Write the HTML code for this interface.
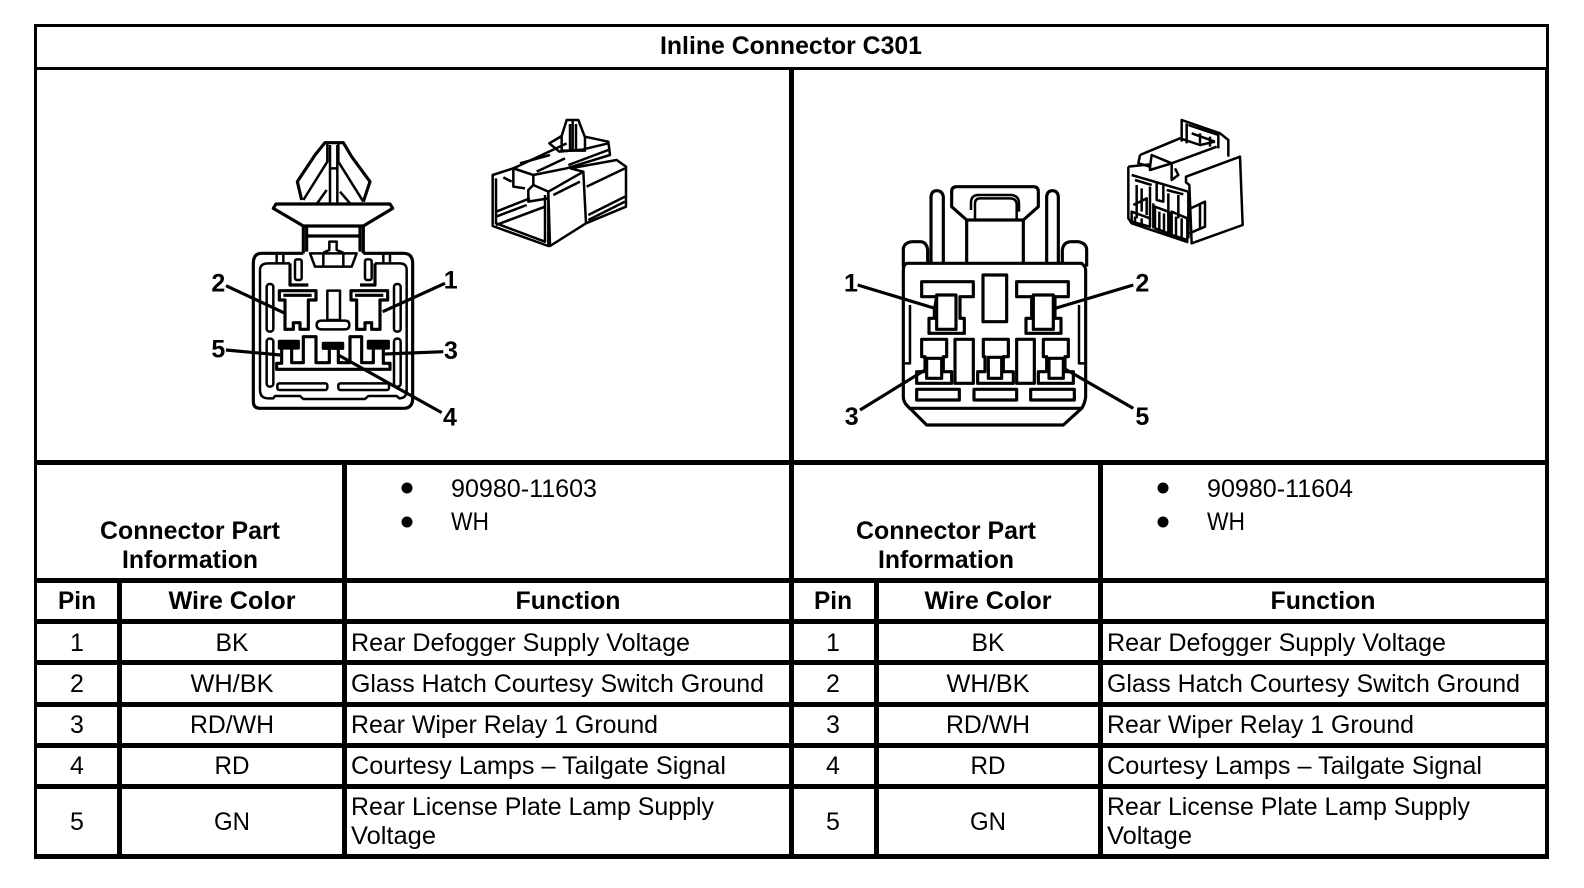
<!DOCTYPE html>
<html><head><meta charset="utf-8"><style>
html,body{margin:0;padding:0;background:#fff}
svg{display:block}
text{font-family:"Liberation Sans",Arial,sans-serif;fill:#000}
.b{font-weight:bold;font-size:25px}
.r{font-size:25px}
.m{text-anchor:middle}
.d path,.d rect,.d line{fill:none;stroke:#000;stroke-width:9.5;stroke-linejoin:round}
.d .f{fill:#fff}
.d .k{fill:#000}
.d .t{stroke-width:7.5}
.d text{font-size:75px;font-weight:bold;text-anchor:middle}
.p path{fill:none;stroke:#000;stroke-width:7.5;stroke-linejoin:round}
.p .f{fill:#fff}
</style></head><body>
<svg width="1584" height="888" viewBox="0 0 1584 888" xmlns="http://www.w3.org/2000/svg">
<rect width="1584" height="888" fill="#fff"/>
<g fill="#000">
<rect x="34" y="24" width="1515" height="3"/>
<rect x="34" y="67" width="1515" height="3"/>
<rect x="34" y="460" width="1515" height="5"/>
<rect x="34" y="578" width="1515" height="5"/>
<rect x="34" y="619" width="1515" height="5"/>
<rect x="34" y="660" width="1515" height="5"/>
<rect x="34" y="702" width="1515" height="5"/>
<rect x="34" y="743" width="1515" height="5"/>
<rect x="34" y="784" width="1515" height="5"/>
<rect x="34" y="854" width="1515" height="5"/>
<rect x="34" y="24" width="3" height="835"/>
<rect x="1546" y="24" width="3" height="43"/>
<rect x="1545" y="67" width="4" height="792"/>
<rect x="789" y="68" width="5" height="790"/>
<rect x="117" y="580" width="5" height="278"/>
<rect x="342" y="462" width="5" height="396"/>
<rect x="874" y="580" width="5" height="278"/>
<rect x="1098" y="462" width="5" height="396"/>
</g>

<text class="b m" x="791" y="54" textLength="262" lengthAdjust="spacingAndGlyphs">Inline Connector C301</text>

<!-- Left part info -->
<text class="b m" x="190" y="539" textLength="180" lengthAdjust="spacingAndGlyphs">Connector Part</text>
<text class="b m" x="190" y="568" textLength="136" lengthAdjust="spacingAndGlyphs">Information</text>
<circle cx="407" cy="488" r="5.5"/><circle cx="407" cy="522" r="5.5"/>
<text class="r" x="451" y="497" textLength="146" lengthAdjust="spacingAndGlyphs">90980-11603</text>
<text class="r" x="451" y="530" textLength="38" lengthAdjust="spacingAndGlyphs">WH</text>
<text class="b m" x="77" y="609" textLength="38" lengthAdjust="spacingAndGlyphs">Pin</text>
<text class="b m" x="232" y="609" textLength="127" lengthAdjust="spacingAndGlyphs">Wire Color</text>
<text class="b m" x="568" y="609" textLength="105" lengthAdjust="spacingAndGlyphs">Function</text>

<!-- Right part info -->
<text class="b m" x="946" y="539" textLength="180" lengthAdjust="spacingAndGlyphs">Connector Part</text>
<text class="b m" x="946" y="568" textLength="136" lengthAdjust="spacingAndGlyphs">Information</text>
<circle cx="1163" cy="488" r="5.5"/><circle cx="1163" cy="522" r="5.5"/>
<text class="r" x="1207" y="497" textLength="146" lengthAdjust="spacingAndGlyphs">90980-11604</text>
<text class="r" x="1207" y="530" textLength="38" lengthAdjust="spacingAndGlyphs">WH</text>
<text class="b m" x="833" y="609" textLength="38" lengthAdjust="spacingAndGlyphs">Pin</text>
<text class="b m" x="988" y="609" textLength="127" lengthAdjust="spacingAndGlyphs">Wire Color</text>
<text class="b m" x="1323" y="609" textLength="105" lengthAdjust="spacingAndGlyphs">Function</text>

<!-- Left rows -->
<text class="r m" x="77" y="651">1</text>
<text class="r m" x="232" y="651" textLength="33" lengthAdjust="spacingAndGlyphs">BK</text>
<text class="r" x="351" y="651" textLength="339" lengthAdjust="spacingAndGlyphs">Rear Defogger Supply Voltage</text>
<text class="r m" x="77" y="692">2</text>
<text class="r m" x="232" y="692" textLength="83" lengthAdjust="spacingAndGlyphs">WH/BK</text>
<text class="r" x="351" y="692" textLength="413" lengthAdjust="spacingAndGlyphs">Glass Hatch Courtesy Switch Ground</text>
<text class="r m" x="77" y="733">3</text>
<text class="r m" x="232" y="733" textLength="84" lengthAdjust="spacingAndGlyphs">RD/WH</text>
<text class="r" x="351" y="733" textLength="307" lengthAdjust="spacingAndGlyphs">Rear Wiper Relay 1 Ground</text>
<text class="r m" x="77" y="774">4</text>
<text class="r m" x="232" y="774" textLength="35" lengthAdjust="spacingAndGlyphs">RD</text>
<text class="r" x="351" y="774" textLength="375" lengthAdjust="spacingAndGlyphs">Courtesy Lamps – Tailgate Signal</text>
<text class="r m" x="77" y="830">5</text>
<text class="r m" x="232" y="830" textLength="36" lengthAdjust="spacingAndGlyphs">GN</text>
<text class="r" x="351" y="815" textLength="363" lengthAdjust="spacingAndGlyphs">Rear License Plate Lamp Supply</text>
<text class="r" x="351" y="844" textLength="85" lengthAdjust="spacingAndGlyphs">Voltage</text>

<!-- Right rows -->
<text class="r m" x="833" y="651">1</text>
<text class="r m" x="988" y="651" textLength="33" lengthAdjust="spacingAndGlyphs">BK</text>
<text class="r" x="1107" y="651" textLength="339" lengthAdjust="spacingAndGlyphs">Rear Defogger Supply Voltage</text>
<text class="r m" x="833" y="692">2</text>
<text class="r m" x="988" y="692" textLength="83" lengthAdjust="spacingAndGlyphs">WH/BK</text>
<text class="r" x="1107" y="692" textLength="413" lengthAdjust="spacingAndGlyphs">Glass Hatch Courtesy Switch Ground</text>
<text class="r m" x="833" y="733">3</text>
<text class="r m" x="988" y="733" textLength="84" lengthAdjust="spacingAndGlyphs">RD/WH</text>
<text class="r" x="1107" y="733" textLength="307" lengthAdjust="spacingAndGlyphs">Rear Wiper Relay 1 Ground</text>
<text class="r m" x="833" y="774">4</text>
<text class="r m" x="988" y="774" textLength="35" lengthAdjust="spacingAndGlyphs">RD</text>
<text class="r" x="1107" y="774" textLength="375" lengthAdjust="spacingAndGlyphs">Courtesy Lamps – Tailgate Signal</text>
<text class="r m" x="833" y="830">5</text>
<text class="r m" x="988" y="830" textLength="36" lengthAdjust="spacingAndGlyphs">GN</text>
<text class="r" x="1107" y="815" textLength="363" lengthAdjust="spacingAndGlyphs">Rear License Plate Lamp Supply</text>
<text class="r" x="1107" y="844" textLength="85" lengthAdjust="spacingAndGlyphs">Voltage</text>

<!-- Left connector front view -->
<g class="d" transform="translate(190 100) scale(.33333)">
<path d="M335 300L322 245L375 165L405 128H460L485 170L540 245L520 305"/>
<path d="M340 300L412 185V130M520 305L445 185V130M420 135V312M442 135V312M420 205H442M410 270L380 312M450 275L480 310" class="t"/>
<path class="f" d="M258 312H600L608 325L520 378H340L250 325Z"/>
<path d="M340 378V460M350 378V455M510 378V455M520 378V460M350 408H510" />
<path d="M360 460H500L485 500H375ZM400 460V500M460 460V500M400 458L418 450V425H440V450L460 458" class="t"/>
<path d="M340 460H215Q190 460 190 490V905Q190 925 210 925H640Q668 925 668 895V490Q668 460 640 460H520"/>
<path d="M300 490H235Q210 490 210 510V870Q210 895 235 895H250L255 888H330L340 897H525L535 888H620L628 895Q650 895 650 870V510Q650 490 630 490H555" class="t"/>
<path d="M260 460V490M280 460V490M580 460V490M600 460V490" class="t"/>
<path d="M300 490V555H355M510 555H555V490"/>
<rect x="315" y="478" width="20" height="62" rx="6" class="t"/>
<rect x="525" y="478" width="20" height="62" rx="6" class="t"/>
<rect x="230" y="552" width="20" height="143" rx="9" class="t"/>
<rect x="612" y="552" width="20" height="143" rx="9" class="t"/>
<rect x="230" y="716" width="20" height="144" rx="9" class="t"/>
<rect x="612" y="716" width="20" height="144" rx="9" class="t"/>
<path d="M268 572H378V600H355V688H330V668H310V688H285V600H268ZM280 586H365"/>
<path d="M483 572H593V600H570V688H545V668H525V688H500V600H483ZM495 586H580"/>
<path d="M412 572H450V660H412Z M395 662H465Q478 662 478 675Q478 688 465 688H395Q380 688 380 675Q380 662 395 662Z" class="t"/>
<rect class="k" x="268" y="724" width="57" height="20"/>
<rect class="k" x="400" y="730" width="58" height="15"/>
<rect class="k" x="535" y="724" width="60" height="20"/>
<path d="M275 745V790H260V808H600V790H580V745M305 745V788H340V710H378V788H418V745M445 745V788H480V710H515V788H550V745"/>
<rect x="262" y="850" width="150" height="20" rx="6" class="t"/>
<rect x="445" y="850" width="152" height="20" rx="6" class="t"/>
<path d="M108 557L285 640M765 550L578 635M108 750L270 765M760 755L585 762M445 765L755 938"/>
<text x="85" y="575">2</text>
<text x="782" y="566">1</text>
<text x="85" y="773">5</text>
<text x="783" y="777">3</text>
<text x="780" y="976">4</text>
</g>

<!-- Left connector 3D -->
<g class="p" transform="translate(470 100) scale(.33333)">
<path d="M275 108L290 60H325L345 112V152H275Z M300 72V150M318 72V150M308 62V150"/>
<path d="M275 108L238 130L268 155L345 148M345 110L415 125L420 165L290 205L190 225L130 205L290 130"/>
<path d="M150 190L240 165M200 215L285 175M295 195L415 150M340 148L415 130"/>
<path d="M68 225L130 205L190 225V255L235 275V438L68 378Z"/>
<path d="M78 235V370L225 425V285M130 205V260L165 265M190 255L175 270V305L235 295"/>
<path class="f" d="M235 275L340 215L348 370L240 438Z"/>
<path d="M300 205L440 180L468 200V320L348 370M340 215L300 205"/>
<path d="M78 335L180 295M78 350L170 315M78 375L225 320M250 285L330 245M350 260L465 205M355 345L465 290M355 360L465 305M100 232L125 245"/>
</g>

<!-- Right connector front view -->
<g class="d" transform="translate(825 170) scale(.33333)">
<path d="M235 290V235Q240 215 265 215H285Q305 215 308 240V278M712 278V240Q715 215 740 215H760Q785 220 785 240V290"/>
<path d="M318 278V80Q320 62 335 62Q352 62 355 80V278M665 278V80Q667 62 682 62Q698 62 700 80V278"/>
<path d="M425 278V150L380 110V65Q380 50 395 50H625Q640 50 640 65V110L595 150V278M425 150H595"/>
<path d="M450 150V100Q450 85 465 85H555Q575 85 575 105V150M438 120V95Q440 75 460 75H560Q582 78 582 100V125" class="t"/>
<path d="M245 280H770Q782 290 782 300V680Q780 700 770 715L715 765H305L255 715Q235 700 235 680V300Q235 285 245 280ZM250 715H770"/>
<path d="M255 405V580H240M762 405V580H778" class="t"/>
<path d="M290 335H445V380H405V445H418V490H312V445H328V420L335 380H290Z"/>
<rect x="335" y="375" width="58" height="103"/>
<path d="M575 335H730V380H690V445H708V490H603V445H620V380H575Z"/>
<rect x="625" y="375" width="60" height="103"/>
<rect x="474" y="315" width="71" height="140"/>
<path d="M290 508H365V560H355V605H380V640H275V605H300V560H290Z"/>
<rect x="305" y="565" width="45" height="60"/>
<path d="M475 508H550V560H535V605H565V640H458V605H480V560H475Z"/>
<rect x="490" y="562" width="40" height="63"/>
<path d="M655 508H730V560H720V605H745V640H640V605H665V560H655Z"/>
<rect x="672" y="565" width="43" height="60"/>
<rect x="390" y="508" width="55" height="132"/>
<rect x="575" y="508" width="53" height="132"/>
<rect x="275" y="658" width="128" height="32"/>
<rect x="447" y="658" width="128" height="32"/>
<rect x="617" y="658" width="131" height="32"/>
<path d="M98 345L330 415M925 345L690 415M105 720L305 597M925 715L720 597"/>
<text x="78" y="365">1</text>
<text x="952" y="365">2</text>
<text x="80" y="765">3</text>
<text x="952" y="765">5</text>
</g>

<!-- Right connector 3D -->
<g class="p" transform="translate(1100 105) scale(.33333)">
<path d="M245 110V45L360 85L385 105V155"/>
<path d="M260 55V115M265 60L355 90V130M275 85L345 110M300 85V115M330 95V125"/>
<path d="M120 150L240 100L300 120L345 110M120 150L115 175L150 185L155 150L215 175L350 125"/>
<path d="M85 185L150 178V195L215 175V225L235 210L225 190M85 185V340L95 355L265 412"/>
<path class="f" d="M258 215L420 155L428 360L275 415L268 240L258 232Z"/>
<path d="M268 312L315 290V365L268 385M300 298V370"/>
<path d="M95 210L265 260V400M105 225L155 240M200 255L250 268M170 230V285L190 290V235"/>
<path d="M110 240V340M150 245V345M125 250V320M205 265V335M235 270V340M160 295V370M210 320V390"/>
<path d="M95 320L150 340V365L95 350ZM165 305L205 320V385L165 370ZM215 320L262 340V405L215 390Z"/>
<path d="M105 335V355M125 340V360M178 320V375M192 325V380M228 335V395M245 340V400M100 300L140 280V330"/>
</g>
</svg>
</body></html>
